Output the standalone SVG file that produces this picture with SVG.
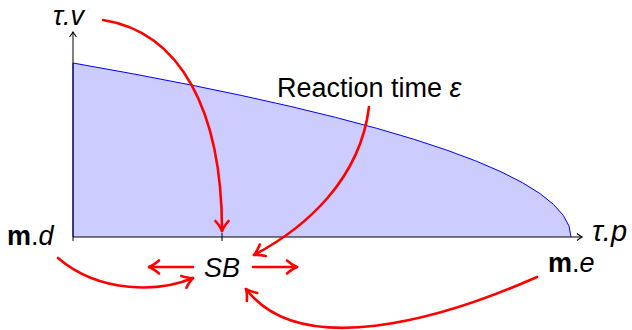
<svg xmlns="http://www.w3.org/2000/svg" width="632" height="330" viewBox="0 0 632 330">
<style>
text{font-family:"Liberation Sans","DejaVu Sans",sans-serif;font-size:27px;fill:#000}
.it{font-style:italic}
.bf{font-weight:bold}
.g{font-size:29px}
.red{fill:none;stroke:#ff0000;stroke-width:2.6;stroke-linecap:round;marker-end:url(#rh)}
.ax{fill:none;stroke:#000;stroke-width:1;marker-end:url(#ah)}
</style>
<defs>
<marker id="rh" markerUnits="userSpaceOnUse" orient="auto" overflow="visible" markerWidth="1" markerHeight="1">
<path d="M-10,-6.5 Q-4,-1.5 0,0 Q-4,1.5 -10,6.5" fill="none" stroke="#ff0000" stroke-width="2.6" stroke-linecap="round" stroke-linejoin="round"/>
</marker>
<marker id="ah" markerUnits="userSpaceOnUse" orient="auto" overflow="visible" markerWidth="1" markerHeight="1">
<path d="M-5,-3.5 Q-1.5,-0.8 0,0 Q-1.5,0.8 -5,3.5" fill="none" stroke="#000" stroke-width="1.1"/>
</marker>
</defs>
<g id="region">
<path d="M73,237 L73,63 Q571,150 571,237 Z" fill="#ccccff" stroke="none"/>
<path d="M73,237 L73,63 Q571,150 571,237" fill="none" stroke="#0000ff" stroke-width="1"/>
</g>
<g id="axes">
<path class="ax" d="M73,237 L73,32"/>
<path class="ax" d="M73,237 L582,237"/>
<path d="M222,233 L222,241" stroke="#000" stroke-width="1"/>
<path d="M73,237 L73,241" stroke="#000" stroke-width="1"/>
</g>
<g id="n-tv"><text x="53" y="25" class="it">τ.v</text></g>
<g id="n-tp"><text x="592" y="241" class="it g">τ.p</text></g>
<g id="n-md"><text x="7" y="245"><tspan class="bf">m</tspan>.<tspan class="it">d</tspan></text></g>
<g id="n-me"><text x="548" y="272"><tspan class="bf">m</tspan>.<tspan class="it">e</tspan></text></g>
<g id="n-sb"><text x="204" y="277" class="it">SB</text></g>
<g id="n-rt"><text x="277" y="97">Reaction time <tspan class="it">ε</tspan></text></g>
<g id="connectors">
<path class="red" d="M103,20 C180,32 222,110 222,231"/>
<path class="red" d="M369,107 C360,180 305,228 254,255"/>
<path class="red" d="M58,258 C100,294 160,292 193,278"/>
<path class="red" d="M537,277 C440,320 300,360 246,289"/>
<path class="red" d="M193,267 L149,267"/>
<path class="red" d="M253,267 L297,267"/>
</g>
</svg>
